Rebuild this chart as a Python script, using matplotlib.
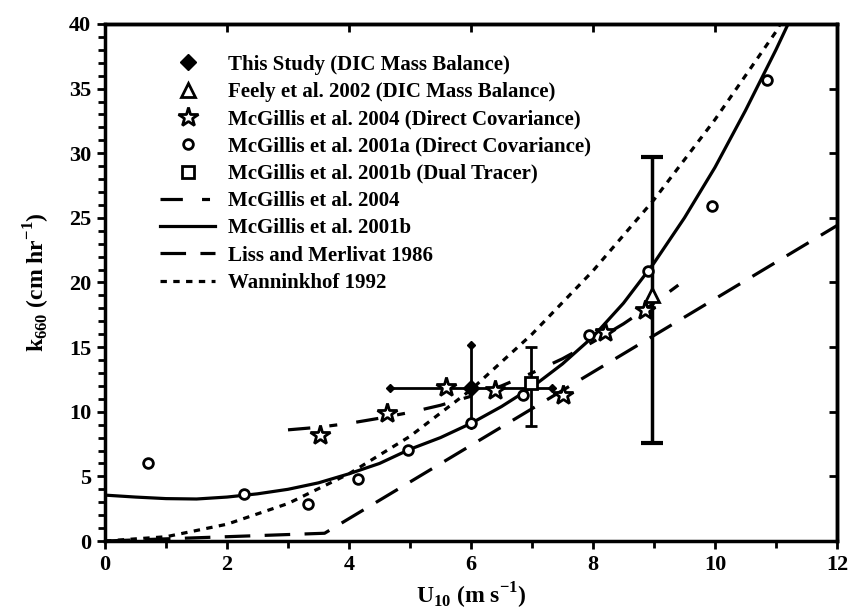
import matplotlib
matplotlib.use("Agg")
import matplotlib.pyplot as plt
from matplotlib.lines import Line2D
from matplotlib.ticker import MultipleLocator

plt.rcParams['font.family'] = ['Liberation Serif', 'DejaVu Serif']
plt.rcParams['font.weight'] = 'bold'
plt.rcParams['mathtext.fontset'] = 'custom'
plt.rcParams['mathtext.rm'] = 'Liberation Serif:bold'
plt.rcParams['mathtext.bf'] = 'Liberation Serif:bold'

# ---- data ----
# This study (DIC mass balance)
study_u = [6.0]
study_k = [11.8]
study_uerr = [1.33]
study_kerr_lo = [2.8]
study_kerr_hi = [3.4]

# Feely et al. 2002
feely_u = [8.96]
feely_k = [19.0]
feely_kerr_lo = [11.4]
feely_kerr_hi = [10.7]

# McGillis et al. 2004 (direct covariance) stars
mc04_u = [3.52, 4.63, 5.59, 6.39, 7.51, 8.20, 8.85]
mc04_k = [8.2, 9.9, 11.9, 11.7, 11.3, 16.2, 17.9]

# McGillis et al. 2001a (direct covariance) circles
mc01a_u = [0.71, 2.28, 3.33, 4.15, 4.97, 6.0, 6.86, 7.94, 8.91, 9.96, 10.85]
mc01a_k = [6.05, 3.65, 2.85, 4.8, 7.05, 9.1, 11.3, 15.9, 20.9, 25.9, 35.7]

# McGillis et al. 2001b (dual tracer) square
mc01b_u = [6.99]
mc01b_k = [12.2]
mc01b_kerr_lo = [3.3]
mc01b_kerr_hi = [2.8]

# Curves
line04_u = [3.0, 3.5, 4.0, 4.5, 5.0, 5.5, 6.0, 6.5, 7.0, 7.5, 8.0, 8.5, 9.0, 9.4]
line04_k = [8.6, 8.8, 9.1, 9.5, 9.95, 10.5, 11.2, 12.0, 13.0, 14.1, 15.4, 16.8, 18.4, 19.8]

line01b_u = [0, 0.5, 1.0, 1.5, 2.0, 2.5, 3.0, 3.5, 4.0, 4.5, 5.0, 5.5, 6.0, 6.5,
             7.0, 7.5, 8.0, 8.5, 9.0, 9.5, 10.0, 10.5, 11.0, 11.2]
line01b_k = [3.55, 3.4, 3.28, 3.25, 3.4, 3.65, 4.0, 4.5, 5.2, 6.0, 7.1, 8.0, 9.1, 10.4,
             11.9, 13.7, 15.8, 18.4, 21.5, 25.0, 28.9, 33.3, 38.0, 40.0]

lm_u = [0, 3.6, 12.0]
lm_k = [0, 0.6, 24.4]

wan_u = [0, 1, 2, 3, 4, 5, 6, 7, 8, 9, 10, 11, 11.07]
wan_k = [0, 0.33, 1.3, 2.9, 5.2, 8.1, 11.7, 16.0, 20.9, 26.4, 32.6, 39.4, 40.0]

# ---- figure ----
fig = plt.figure(figsize=(8.56, 6.12), dpi=100)
ax = fig.add_axes([0.1227, 0.116, 0.855, 0.8448])

lw = 2.3
ax.plot(line01b_u, line01b_k, color='black', lw=lw, ls='-')
ax.plot(line04_u, line04_k, color='black', lw=lw, ls=(0, (7, 6, 2.5, 6)))
ax.plot(lm_u, lm_k, color='black', lw=lw, ls=(0, (8, 4.5)))
ax.plot(wan_u, wan_k, color='black', lw=lw, ls=(0, (2, 2)))

# error bars
ax.errorbar(study_u, study_k, xerr=study_uerr, yerr=[study_kerr_lo, study_kerr_hi],
            fmt='none', ecolor='black', elinewidth=2, capsize=0)
ends_u = [study_u[0] - study_uerr[0], study_u[0] + study_uerr[0], study_u[0], study_u[0]]
ends_k = [study_k[0], study_k[0], study_k[0] + study_kerr_hi[0], study_k[0] - study_kerr_lo[0]]
ax.plot(ends_u, ends_k, ls='none', marker='D', ms=4, color='black')
ax.errorbar(feely_u, feely_k, yerr=[feely_kerr_lo, feely_kerr_hi],
            fmt='none', ecolor='black', elinewidth=2.5, capsize=8, capthick=3)
ax.errorbar(mc01b_u, mc01b_k, yerr=[mc01b_kerr_lo, mc01b_kerr_hi],
            fmt='none', ecolor='black', elinewidth=2, capsize=4, capthick=2)

# markers
ax.plot(mc01a_u, mc01a_k, ls='none', marker='o', ms=7, mfc='white', mec='black', mew=2)
ax.plot(mc04_u, mc04_k, ls='none', marker='*', ms=15, mfc='white', mec='black', mew=2)
ax.plot(study_u, study_k, ls='none', marker='D', ms=8, color='black')
ax.plot(feely_u, feely_k, ls='none', marker='^', ms=10, mfc='white', mec='black', mew=2)
ax.plot(mc01b_u, mc01b_k, ls='none', marker='s', ms=9, mfc='white', mec='black', mew=2)

ax.set_xlim(0, 12)
ax.set_ylim(0, 40)

for s in ax.spines.values():
    s.set_linewidth(2.5)

ax.xaxis.set_major_locator(MultipleLocator(2))
ax.xaxis.set_minor_locator(MultipleLocator(1))
ax.yaxis.set_major_locator(MultipleLocator(5))
ax.yaxis.set_minor_locator(MultipleLocator(1))
ax.tick_params(axis='both', which='both', direction='out', width=2)
ax.tick_params(axis='both', which='major', length=6, labelsize=16, pad=4)
ax.tick_params(axis='both', which='minor', length=5)
ax.tick_params(top=False, right=False, which='both')
for lab in ax.get_xticklabels() + ax.get_yticklabels():
    lab.set_fontweight('bold')

# inward ticks on the top and right spines
sec_x = ax.secondary_xaxis('top')
sec_x.xaxis.set_major_locator(MultipleLocator(2))
sec_x.tick_params(direction='in', length=6, width=2, labeltop=False)
sec_x.spines['top'].set_linewidth(2.5)
sec_y = ax.secondary_yaxis('right')
sec_y.yaxis.set_major_locator(MultipleLocator(5))
sec_y.tick_params(direction='in', length=6, width=2, labelright=False)
sec_y.spines['right'].set_linewidth(2.5)

ax.set_xlabel(r'U$_{\mathbf{10}}$ (m s$^{\mathbf{-1}}$)', fontsize=17, fontweight='bold', labelpad=4)
ax.set_ylabel(r'k$_{\mathbf{660}}$ (cm hr$^{\mathbf{-1}}$)', fontsize=17, fontweight='bold', labelpad=12)

handles = [
    Line2D([], [], ls='none', marker='D', ms=8, color='black'),
    Line2D([], [], ls='none', marker='^', ms=10, mfc='white', mec='black', mew=2),
    Line2D([], [], ls='none', marker='*', ms=15, mfc='white', mec='black', mew=2),
    Line2D([], [], ls='none', marker='o', ms=7, mfc='white', mec='black', mew=2),
    Line2D([], [], ls='none', marker='s', ms=9, mfc='white', mec='black', mew=2),
    Line2D([], [], color='black', lw=lw, ls=(0, (7, 6, 2.5, 6))),
    Line2D([], [], color='black', lw=lw, ls='-'),
    Line2D([], [], color='black', lw=lw, ls=(0, (8, 4.5))),
    Line2D([], [], color='black', lw=lw, ls=(0, (2, 2))),
]
labels = [
    'This Study (DIC Mass Balance)',
    'Feely et al. 2002 (DIC Mass Balance)',
    'McGillis et al. 2004 (Direct Covariance)',
    'McGillis et al. 2001a (Direct Covariance)',
    'McGillis et al. 2001b (Dual Tracer)',
    'McGillis et al. 2004',
    'McGillis et al. 2001b',
    'Liss and Merlivat 1986',
    'Wanninkhof 1992',
]
leg = ax.legend(handles, labels, loc='upper left', bbox_to_anchor=(0.0496, 0.977),
                frameon=False, handlelength=2.65, handletextpad=0.6,
                labelspacing=0.35, prop={'family': 'Liberation Serif', 'weight': 'bold', 'size': 15})

fig.savefig('out.png', dpi=100)
